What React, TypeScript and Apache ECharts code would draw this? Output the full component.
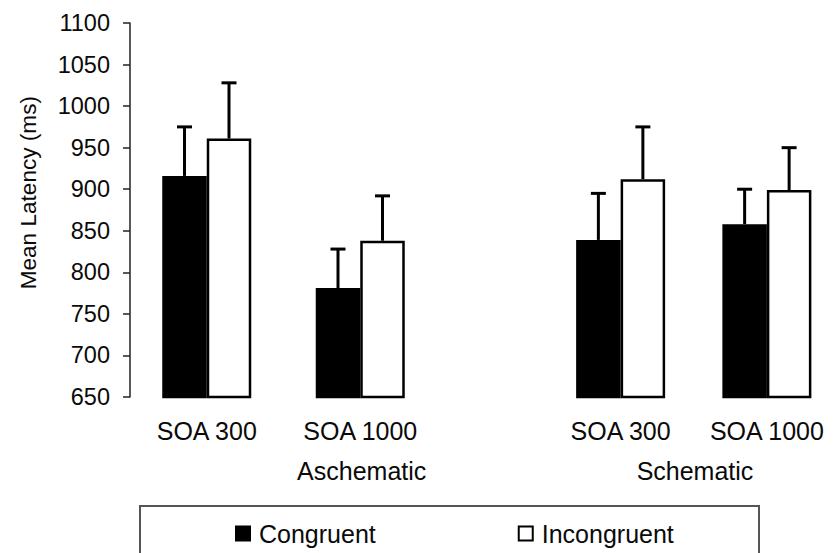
import React, { useEffect, useRef } from "react";
import * as echarts from "echarts";

const categories = ["SOA 300", "SOA 1000", "SOA 300", "SOA 1000"];
const groupNames = ["Aschematic", "Schematic"];
const seriesNames = ["Congruent", "Incongruent"];
const congruent = [916, 781, 839, 858];
const congruentErr = [59, 47, 56, 42];
const incongruent = [961, 838, 912, 899];
const incongruentErr = [67, 54, 63, 51];
const yMin = 650;
const yMax = 1100;
const yStep = 50;
const yTitle = "Mean Latency (ms)";

const FONT = "'Liberation Sans', Arial, Helvetica, sans-serif";
const BAR_W = 44.5;
const TEXT = "#0a0a0a";

export default function App() {
  const ref = useRef<HTMLDivElement>(null);
  useEffect(() => {
    document.body.style.margin = "0";
    if (!ref.current) return;
    const chart = echarts.init(ref.current, undefined, { renderer: "svg" });

    const gridTop = 23;
    const gridHeight = 374;
    const grids = [
      { left: 130, top: gridTop, width: 307, height: gridHeight },
      { left: 547.5, top: gridTop, width: 308, height: gridHeight },
    ];

    const xAxes = grids.map((_, g) => ({
      type: "category" as const,
      gridIndex: g,
      data: categories.slice(g * 2, g * 2 + 2),
      axisLine: { show: false },
      axisTick: { show: false },
      axisLabel: {
        color: TEXT,
        fontSize: 25,
        fontFamily: FONT,
        margin: 21,
        interval: 0,
      },
    }));

    const yAxes = grids.map((_, g) => ({
      type: "value" as const,
      gridIndex: g,
      min: yMin,
      max: yMax,
      interval: yStep,
      show: g === 0,
      splitLine: { show: false },
      axisLine: { show: true, lineStyle: { color: "#222", width: 1.5 } },
      axisTick: { show: true, length: 7, lineStyle: { color: "#222", width: 1.5 } },
      axisLabel: {
        color: TEXT,
        fontSize: 23.5,
        fontFamily: FONT,
        margin: 20,
        formatter: (v: number) => String(v),
      },
    }));

    const series: any[] = [];
    const values = [congruent, incongruent];
    const errs = [congruentErr, incongruentErr];
    const fills = ["#000", "#fff"];
    grids.forEach((_, g) => {
      for (let s = 0; s < 2; s++) {
        series.push({
          type: "bar",
          name: seriesNames[s],
          xAxisIndex: g,
          yAxisIndex: g,
          barWidth: BAR_W,
          barGap: "0%",
          data: values[s].slice(g * 2, g * 2 + 2),
          itemStyle: { color: fills[s], borderColor: "#000", borderWidth: 2.5 },
          z: 2,
        });
      }
      for (let s = 0; s < 2; s++) {
        const off = s === 0 ? -BAR_W / 2 : BAR_W / 2;
        series.push({
          type: "custom",
          name: seriesNames[s] + " error",
          xAxisIndex: g,
          yAxisIndex: g,
          z: 5,
          silent: true,
          data: [0, 1].map((i) => [
            i,
            values[s][g * 2 + i],
            errs[s][g * 2 + i],
          ]),
          renderItem: (params: any, api: any) => {
            const idx = api.value(0);
            const v = api.value(1);
            const e = api.value(2);
            const p0 = api.coord([idx, v]);
            const p1 = api.coord([idx, v + e]);
            const x = p0[0] + off;
            const style = { stroke: "#000", lineWidth: 3 };
            return {
              type: "group",
              children: [
                {
                  type: "line",
                  shape: { x1: x, y1: p0[1], x2: x, y2: p1[1] },
                  style,
                },
                {
                  type: "line",
                  shape: { x1: x - 7.5, y1: p1[1], x2: x + 7.5, y2: p1[1] },
                  style,
                },
              ],
            };
          },
        });
      }
    });

    chart.setOption({
      animation: false,
      backgroundColor: "#fff",
      grid: grids,
      xAxis: xAxes,
      yAxis: yAxes,
      legend: {
        data: seriesNames,
        left: 230,
        top: 516,
        orient: "horizontal",
        icon: "rect",
        itemWidth: 14,
        itemHeight: 14,
        itemGap: 142,
        selectedMode: false,
        textStyle: {
          color: TEXT,
          fontSize: 25,
          fontFamily: FONT,
          padding: [0, 0, 0, 4],
        },
      },
      graphic: [
        {
          type: "text",
          left: 17,
          top: 96,
          rotation: Math.PI / 2,
          style: {
            text: yTitle,
            fill: TEXT,
            fontSize: 22.6,
            fontFamily: FONT,
          },
        },
        {
          type: "text",
          x: 361.7,
          y: 471,
          style: {
            text: groupNames[0],
            fill: TEXT,
            fontSize: 25,
            fontFamily: FONT,
            align: "center",
            verticalAlign: "middle",
          },
        },
        {
          type: "text",
          x: 695,
          y: 471,
          style: {
            text: groupNames[1],
            fill: TEXT,
            fontSize: 25,
            fontFamily: FONT,
            align: "center",
            verticalAlign: "middle",
          },
        },
        {
          type: "rect",
          shape: { x: 140, y: 506, width: 619, height: 80 },
          style: { fill: "none", stroke: "#555", lineWidth: 2 },
          silent: true,
        },
      ],
      series,
    });
    return () => chart.dispose();
  }, []);
  return <div ref={ref} style={{ width: 840, height: 553 }} />;
}
